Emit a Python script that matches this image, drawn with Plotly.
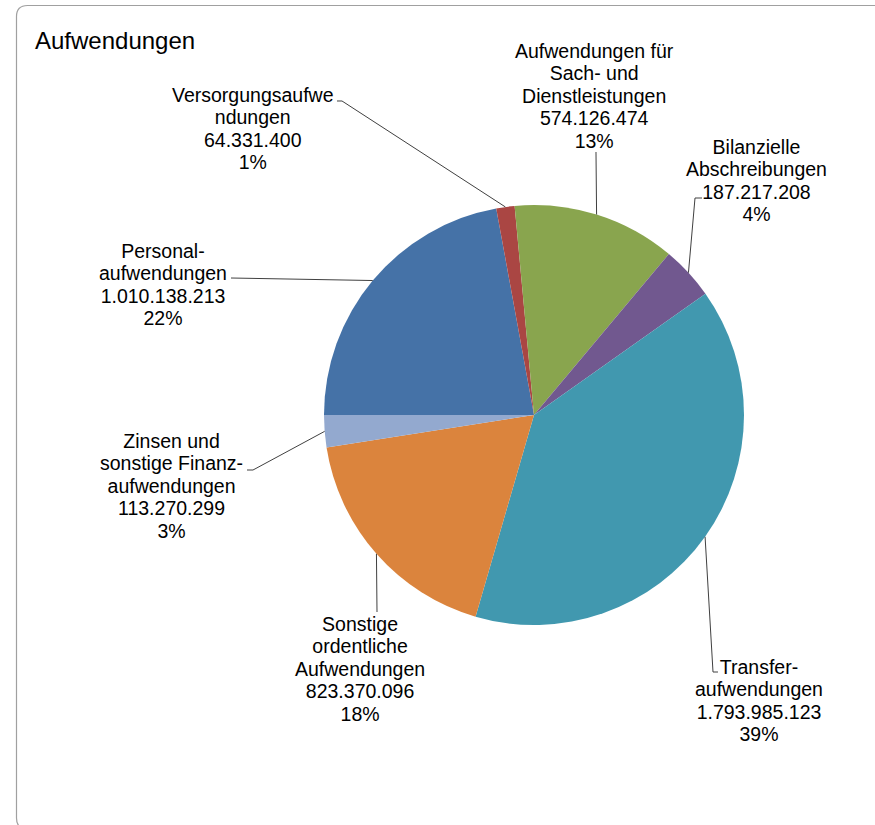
import math
import plotly.graph_objects as go

W, H = 875, 825

# data (order as in the source table, drawn clockwise from 9 o'clock)
categories = [
    "Personal-\naufwendungen",
    "Versorgungsaufwe\nndungen",
    "Aufwendungen für\nSach- und\nDienstleistungen",
    "Bilanzielle\nAbschreibungen",
    "Transfer-\naufwendungen",
    "Sonstige\nordentliche\nAufwendungen",
    "Zinsen und\nsonstige Finanz-\naufwendungen",
]
values = [1010138213, 64331400, 574126474, 187217208, 1793985123, 823370096, 113270299]
percent_labels = ["22%", "1%", "13%", "4%", "39%", "18%", "3%"]

colors = ["#4572A7", "#AA4643", "#89A54E", "#71588F", "#4198AF", "#DB843D", "#93A9CF"]

# layout in screen pixels
CX, CY, R = 534, 415, 210
START_ANGLE = 270
label_centres = [(163, 284), (253, 128), (594, 96), (756, 181), (759, 700), (360, 669), (171, 486)]
leader_starts = [
    [(231, 278)],
    [(337, 101), (342, 101)],
    [(596, 152)],
    [(702, 198), (695, 198)],
    [(718, 672), (713, 672)],
    [(377, 612)],
    [(247, 470), (253, 470)],
]


def px(x):
    return x / W


def py(y):
    return 1 - y / H


def de(n):
    return f"{n:,}".replace(",", ".")


fig = go.Figure(go.Pie(
    labels=[c.replace("\n", " ") for c in categories],
    values=values,
    sort=False,
    direction="clockwise",
    rotation=START_ANGLE,
    marker=dict(colors=colors, line=dict(width=0)),
    textinfo="none",
    hoverinfo="label+value+percent",
    domain=dict(x=[px(CX - R), px(CX + R)], y=[py(CY + R), py(CY - R)]),
    showlegend=False,
))

total = sum(values)
cum = 0
shapes = []
annotations = []
for cat, v, pct, centre, starts in zip(categories, values, percent_labels, label_centres, leader_starts):
    mid = math.radians(START_ANGLE + (cum + v / 2) / total * 360)
    cum += v
    ex = CX + R * math.sin(mid)
    ey = CY - R * math.cos(mid)
    pts = starts + [(ex, ey)]
    path = "M " + " L ".join(f"{px(x):.5f},{py(y):.5f}" for x, y in pts)
    shapes.append(dict(type="path", xref="paper", yref="paper", path=path,
                       line=dict(color="#404040", width=1)))
    lines = cat.split("\n") + [de(v), pct]
    text = "<br>".join(f"<span style='font-size:19.5px'>{ln}</span>" for ln in lines)
    annotations.append(dict(x=px(centre[0]), y=py(centre[1]), xref="paper", yref="paper",
                            text=text, showarrow=False, xanchor="center", yanchor="middle",
                            align="center", font=dict(size=17.3, color="#000000")))

# outer chart frame with rounded corners
L, T, Rt, B, r = 16.5, 5.5, 890, 829, 11
frame = (f"M {px(L)},{py(T + r)} Q {px(L)},{py(T)} {px(L + r)},{py(T)} "
         f"L {px(Rt - r)},{py(T)} Q {px(Rt)},{py(T)} {px(Rt)},{py(T + r)} "
         f"L {px(Rt)},{py(B - r)} Q {px(Rt)},{py(B)} {px(Rt - r)},{py(B)} "
         f"L {px(L + r)},{py(B)} Q {px(L)},{py(B)} {px(L)},{py(B - r)} Z")
shapes.append(dict(type="path", xref="paper", yref="paper", path=frame,
                   line=dict(color="#A0A0A0", width=1.2), layer="below"))

annotations.append(dict(x=px(33), y=py(41), xref="paper", yref="paper", text="Aufwendungen",
                        showarrow=False, xanchor="left", yanchor="middle",
                        font=dict(size=24, color="#000000")))

fig.update_layout(
    width=W, height=H,
    margin=dict(l=0, r=0, t=0, b=0),
    paper_bgcolor="#FFFFFF",
    plot_bgcolor="#FFFFFF",
    font=dict(family="Liberation Sans, Arial, sans-serif", color="#000000"),
    shapes=shapes,
    annotations=annotations,
)

# drop the default page margin so the figure sits at the window's corner
fig.write_html("out.html", config={"displayModeBar": False},
               post_script="document.body.style.margin = '0';")
